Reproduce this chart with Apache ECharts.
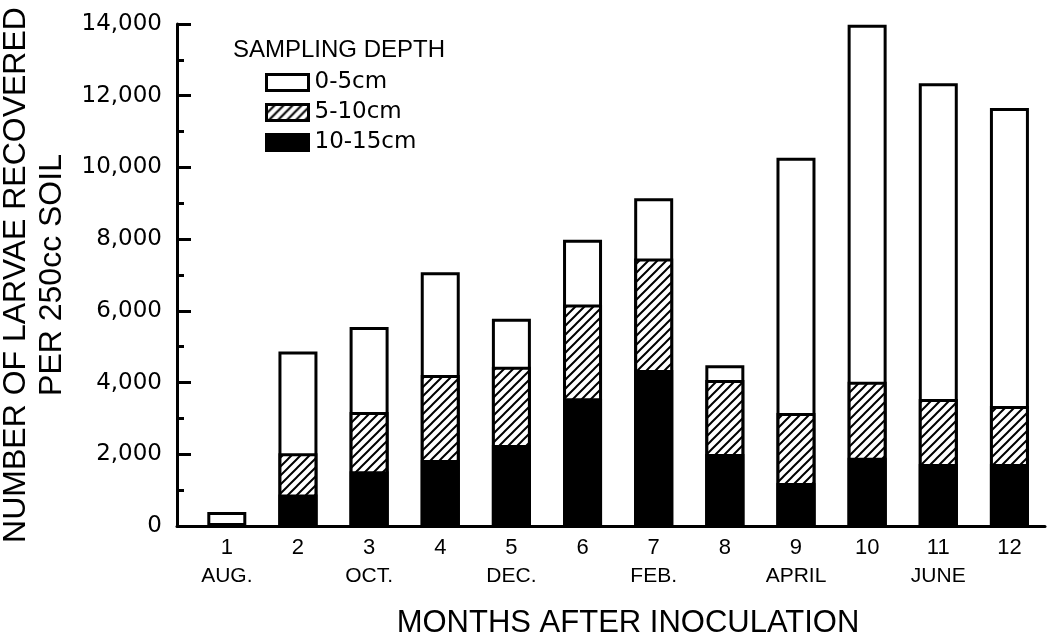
<!DOCTYPE html>
<html>
<head>
<meta charset="utf-8">
<title>Larvae recovered by sampling depth</title>
<script src="https://cdn.jsdelivr.net/npm/echarts@6/dist/echarts.min.js"></script>
<style>
  html, body { margin: 0; padding: 0; background: #fff; }
  #main { width: 1058px; height: 638px; }
</style>
</head>
<body>
<div id="main"></div>
<script>
// months after inoculation
const months = [1, 2, 3, 4, 5, 6, 7, 8, 9, 10, 11, 12];
const monthNames = ["AUG.", "", "OCT.", "", "DEC.", "", "FEB.", "", "APRIL", "", "JUNE", ""];
// larvae per 250cc soil, by depth
const depth0to5 = [330, 2840, 2370, 2870, 1340, 1800, 1680, 410, 7120, 9960, 8810, 8310];
const depth5to10 = [0, 1150, 1650, 2370, 2180, 2620, 3110, 2060, 1950, 2120, 1810, 1620];
const depth10to15 = [60, 880, 1530, 1840, 2260, 3560, 4350, 2010, 1200, 1900, 1730, 1730];

// hatch pattern "/"
function hatch() {
  const c = document.createElement("canvas");
  c.width = 9;
  c.height = 9;
  const ctx = c.getContext("2d");
  ctx.fillStyle = "#fff";
  ctx.fillRect(0, 0, 9, 9);
  ctx.strokeStyle = "#000";
  ctx.lineWidth = 2;
  ctx.beginPath();
  ctx.moveTo(0, 9); ctx.lineTo(9, 0);
  ctx.moveTo(-2, 2); ctx.lineTo(2, -2);
  ctx.moveTo(7, 11); ctx.lineTo(11, 7);
  ctx.stroke();
  return c;
}

// bars overlap: each one drawn up to the cumulative sum of its layer
const top1 = months.map((m, i) => [m, depth10to15[i] + depth5to10[i] + depth0to5[i]]);
const top2 = months.map((m, i) => [m, depth10to15[i] + depth5to10[i]]);
const top3 = months.map((m, i) => [m, depth10to15[i]]);

const chart = echarts.init(document.getElementById("main"));

const barBase = {
  type: "bar",
  barWidth: 39,
  barGap: "-100%",
  tooltip: { show: false },
};

chart.setOption({
  animation: false,
  title: {
    text: "SAMPLING DEPTH",
    left: 228,
    top: 33,
    textStyle: {
      fontFamily: "Liberation Sans",
      fontSize: 24,
      fontWeight: "normal",
      color: "#000",
    },
  },
  legend: {
    orient: "vertical",
    left: 260,
    top: 66,
    itemWidth: 42,
    itemHeight: 16,
    itemGap: 7,
    icon: "rect",
    data: ["0-5cm", "5-10cm", "10-15cm"],
    itemStyle: { borderWidth: 3 },
    textStyle: {
      fontFamily: "DejaVu Sans",
      fontSize: 23,
      color: "#000",
      padding: [0, 0, 0, 1],
    },
  },
  grid: {
    left: 177,
    right: 13,
    top: 24,
    bottom: 112,
    outerBoundsMode: "none",
  },
  xAxis: {
    type: "value",
    min: 0.3,
    max: 12.5,
    splitLine: { show: false },
    axisTick: { show: false },
    axisLine: { show: true, onZero: true, lineStyle: { color: "#000", width: 3 } },
    axisLabel: {
      customValues: months,
      margin: 7,
      formatter: function (v) {
        const i = months.indexOf(v);
        return "{n|" + v + "}\n{m|" + (monthNames[i] || " ") + "}";
      },
      rich: {
        n: { fontFamily: "Liberation Sans", fontSize: 22, lineHeight: 29, color: "#000" },
        m: { fontFamily: "Liberation Sans", fontSize: 21, lineHeight: 29, color: "#000" },
      },
    },
    name: "MONTHS AFTER INOCULATION",
    nameLocation: "middle",
    nameGap: 82,
    nameTextStyle: {
      fontFamily: "Liberation Sans",
      fontSize: 31,
      color: "#000",
      padding: [0, 0, 0, 34],
    },
  },
  yAxis: {
    type: "value",
    min: 0,
    max: 14000,
    interval: 2000,
    splitLine: { show: false },
    axisLine: { show: true, lineStyle: { color: "#000", width: 3 } },
    axisTick: { show: true, inside: true, length: 14, lineStyle: { color: "#000", width: 3 } },
    minorTick: { show: true, splitNumber: 2, length: 7, lineStyle: { color: "#000", width: 3 } },
    minorSplitLine: { show: false },
    axisLabel: {
      margin: 15,
      fontFamily: "DejaVu Sans",
      fontSize: 23,
      color: "#000",
      formatter: function (v) {
        return v.toLocaleString("en-US");
      },
    },
    name: "NUMBER OF LARVAE RECOVERED\nPER 250cc SOIL",
    nameLocation: "middle",
    nameRotate: 90,
    nameGap: 92,
    nameTextStyle: {
      fontFamily: "Liberation Sans",
      fontSize: 32,
      lineHeight: 36,
      color: "#000",
    },
  },
  series: [
    Object.assign({}, barBase, {
      name: "0-5cm",
      itemStyle: { color: "#fff", borderColor: "#000", borderWidth: 3 },
      data: top1,
    }),
    Object.assign({}, barBase, {
      name: "5-10cm",
      itemStyle: { color: { image: hatch(), repeat: "repeat" }, borderColor: "#000", borderWidth: 3 },
      data: top2,
    }),
    Object.assign({}, barBase, {
      name: "10-15cm",
      itemStyle: { color: "#000", borderColor: "#000", borderWidth: 3 },
      data: top3,
    }),
  ],
});
</script>
</body>
</html>
